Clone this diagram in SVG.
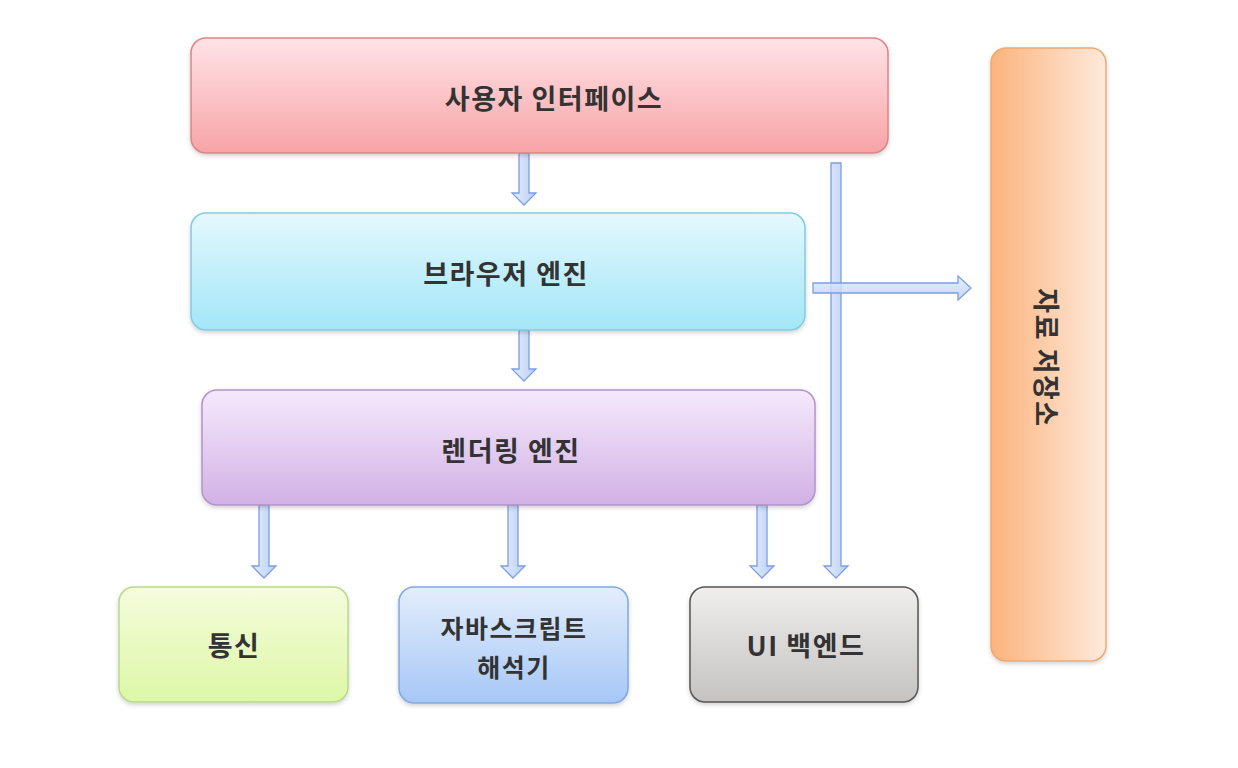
<svg xmlns="http://www.w3.org/2000/svg" width="1238" height="768" viewBox="0 0 1238 768">
<style>
.lbl{font-family:"Noto Sans CJK KR","Noto Sans",sans-serif;font-weight:700;font-size:27px;letter-spacing:1.5px;fill:#333;text-anchor:middle;dominant-baseline:central}
.sm{font-size:25px}
.box{stroke-width:1.5}
.arr{fill:url(#ga);stroke:#7b9fe0;stroke-width:1.3;stroke-linejoin:miter}
</style>
<defs>
<linearGradient id="g1" x1="0" y1="0" x2="0" y2="1"><stop offset="0" stop-color="#ffe3e7"/><stop offset="1" stop-color="#f8a3a6"/></linearGradient>
<linearGradient id="g2" x1="0" y1="0" x2="0" y2="1"><stop offset="0" stop-color="#e4f8fd"/><stop offset="1" stop-color="#a2e6f8"/></linearGradient>
<linearGradient id="g3" x1="0" y1="0" x2="0" y2="1"><stop offset="0" stop-color="#f5e9fc"/><stop offset="1" stop-color="#d2b1e5"/></linearGradient>
<linearGradient id="g4" x1="0" y1="0" x2="0" y2="1"><stop offset="0" stop-color="#f5fcdc"/><stop offset="1" stop-color="#ddf7a6"/></linearGradient>
<linearGradient id="g5" x1="0" y1="0" x2="0" y2="1"><stop offset="0" stop-color="#e3eefc"/><stop offset="1" stop-color="#a6c7f7"/></linearGradient>
<linearGradient id="g6" x1="0" y1="0" x2="0" y2="1"><stop offset="0" stop-color="#f0eded"/><stop offset="1" stop-color="#c5c2c2"/></linearGradient>
<linearGradient id="g7" x1="0" y1="0" x2="1" y2="0"><stop offset="0" stop-color="#fcb37c"/><stop offset="1" stop-color="#fdeadc"/></linearGradient>
<linearGradient id="ga" x1="0" y1="0" x2="1" y2="0"><stop offset="0" stop-color="#e6eefc"/><stop offset="1" stop-color="#b9cef4"/></linearGradient>
<linearGradient id="gah" x1="0" y1="0" x2="0" y2="1"><stop offset="0" stop-color="#e6eefc"/><stop offset="1" stop-color="#b9cef4"/></linearGradient>
<filter id="sh" x="-5%" y="-10%" width="110%" height="125%"><feDropShadow dx="0" dy="2" stdDeviation="2" flood-color="#000" flood-opacity="0.18"/></filter>
</defs>
<rect width="1238" height="768" fill="#fff"/>

<g id="connectors">
<path class="arr" d="M519,153 H529 V193 H536 L524,205 L512,193 H519 Z"/>
<path class="arr" d="M519,330 H529 V369 H536 L524,381 L512,369 H519 Z"/>
<path class="arr" d="M259,505 H269 V566 H276 L264,578 L252,566 H259 Z"/>
<path class="arr" d="M508,505 H518 V566 H525 L513,578 L501,566 H508 Z"/>
<path class="arr" d="M757,505 H767 V566 H774 L762,578 L750,566 H757 Z"/>
<path class="arr" d="M831,163 H841 V566 H848 L836,578 L824,566 H831 Z"/>
<path class="arr" style="fill:url(#gah);fill-opacity:0.85" d="M813,283 V293 H958 V300 L971,288 L958,276 V283 Z"/>
</g>

<g id="n1"><rect class="box" x="191" y="38" width="697" height="115" rx="15" fill="url(#g1)" stroke="#db8587" filter="url(#sh)"/><text class="lbl" x="554" y="97">사용자 인터페이스</text></g>
<g id="n2"><rect class="box" x="191" y="213" width="614" height="117" rx="15" fill="url(#g2)" stroke="#82cce0" filter="url(#sh)"/><text class="lbl" x="506" y="272">브라우저 엔진</text></g>
<g id="n3"><rect class="box" x="202" y="390" width="613" height="115" rx="15" fill="url(#g3)" stroke="#b292cb" filter="url(#sh)"/><text class="lbl" x="511" y="449">렌더링 엔진</text></g>
<g id="n4"><rect class="box" x="119" y="587" width="229" height="115" rx="15" fill="url(#g4)" stroke="#b8d98c" filter="url(#sh)"/><text class="lbl" x="234" y="644">통신</text></g>
<g id="n5"><rect class="box" x="399" y="587" width="229" height="116" rx="15" fill="url(#g5)" stroke="#80a9e2" filter="url(#sh)"/><text class="lbl sm"><tspan x="514" y="627">자바스크립트</tspan><tspan x="514" y="666">해석기</tspan></text></g>
<g id="n6"><rect class="box" x="690" y="587" width="228" height="115" rx="15" fill="url(#g6)" stroke="#555" filter="url(#sh)"/><text class="lbl" x="806" y="644">UI 백엔드</text></g>
<g id="n7"><rect class="box" x="991" y="48" width="115" height="613" rx="15" fill="url(#g7)" stroke="#f0a872" filter="url(#sh)"/><text class="lbl" transform="translate(1047,358) rotate(90)" x="0" y="0">자료 저장소</text></g>
</svg>
